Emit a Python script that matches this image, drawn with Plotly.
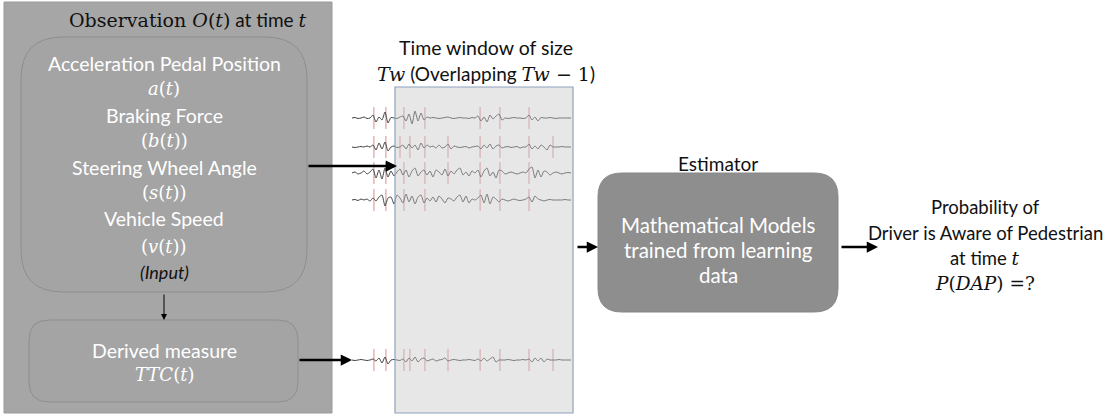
import plotly.graph_objects as go

# ---- data: signal amplitudes (px-scale units, positive = up), one sample per step ----
sig_a = [0,0.5,-0.5,0,1,-0.5,0, 3,-4,1,-2,6,-5, 0.5,0,-0.5,1, 2,-3,4,-6,7,-3,5,-2,1,
         0,0.5,0,-0.5,0,0.5,1,0,-0.5,0,0.5,0,0,-0.5,0.5,0, 2,-3,1,-4,3,-1,2,4,-2,
         0,-0.5,0,0.5,0,0,-0.5,0, 3,-2,1,-3,0.5, 0,0,0.5,0,-0.5,0,0,0,0,0]
sig_b = [0,-0.5,0,0.5,0,1,0, 2,-3,4,-2,5,-4, 0,1,-0.5,0, 2,-2,3,-1,2,-3,4,-1,2,
         0,1,-1,2,-1,0,3,-2,1,0,-0.5,0,0.5,-1,0,0.5, 1,-2,2,-1,3,-2,1,2,-1,
         0,0.5,-0.5,0,0.5,-1,0,0, 3,-2,1,-2,2,0,-3,2,0, 0,0,0.5,0,0,0]
sig_s = [0,1,-1,0,2,-1,1, 4,-5,3,-6,5,-4, 2,-3,1,4, -2,3,-4,2,5,-3,1,3,-2,
         2,-4,3,1,-2,4,-3,2,-1,3,5,-2,1,-3,2,0, 3,-4,2,5,-3,1,-5,3,2,
         -1,0,1,0,-1,0,1,0, 4,6,-5,3,-4,2,1,-2,0, 1,0,-1,0,0.5,0]
sig_v = [0,0.5,-0.5,1,0,1,-1, 2,-1,3,5,-6,2, 3,-4,5,2, -3,6,-2,4,-4,3,5,-3,2,
         -1,3,-2,4,1,-3,2,1,-1,3,5,-2,4,-3,1,0, 2,5,-3,6,-4,3,1,-2,1,
         0,-1,0,1,0,-0.5,0,1, 3,-2,4,1,0,-1,0,0.5,0, 0,0,0,0.5,0,0]
sig_ttc = [0,-0.5,0,0.5,0,-0.5,0, 1,-1,2,-3,3,-4, 0,0.5,0,-0.5, 1,-2,2,-1,3,-2,1,2,-1,
           0,1,-1,0,0.5,2,-1,0,0.5,0,-0.5,0,0,0.5,0,-0.5, 1,-1,2,-1,1,3,-2,0,0,
           0,0.5,0,-0.5,0,0,0.5,0, 1,-2,2,-1,2,-2,1,0,0, 0,0.5,0,0,0,0]
# event marker sample indices per signal
ev_a = [7.3, 11.3, 17.3, 24.3, 42.7, 49.3, 59]
ev_b = [7.3, 11.3, 16, 19.3, 24.3, 32, 42.7, 49.3, 59, 67]
ev_s = [7.3, 11.3, 17.3, 24.3, 32, 42.7, 49.3, 59]
ev_v = [7.3, 11.3, 17.3, 24.3, 42.7, 49.3, 59]
ev_ttc = [7.3, 11.3, 17.3, 19.3, 24.3, 32, 42.7, 49.3, 59, 67]

W, H = 1111, 418
fig = go.Figure()

def rrect(x0, y0, x1, y1, r):
    return (f"M{x0+r},{y0} L{x1-r},{y0} Q{x1},{y0} {x1},{y0+r} L{x1},{y1-r} "
            f"Q{x1},{y1} {x1-r},{y1} L{x0+r},{y1} Q{x0},{y1} {x0},{y1-r} "
            f"L{x0},{y0+r} Q{x0},{y0} {x0+r},{y0} Z")

shapes = []
shapes.append(dict(type="rect", x0=4, y0=2, x1=332, y1=413, fillcolor="#a6a6a6",
                   line=dict(color="#9a9a9a", width=1), layer="below"))
shapes.append(dict(type="path", path=rrect(21, 37, 307, 292, 42), fillcolor="#a4a4a4",
                   line=dict(color="#8e8e8e", width=1), layer="below"))
shapes.append(dict(type="path", path=rrect(29, 320, 298, 402, 20), fillcolor="#a4a4a4",
                   line=dict(color="#8e8e8e", width=1), layer="below"))
shapes.append(dict(type="path", path=rrect(598, 173, 838, 312, 24), fillcolor="#8e8e8e",
                   line=dict(color="#878787", width=1), layer="below"))

x_start, step = 352, 3.0
signals = [(sig_a, ev_a, 118), (sig_b, ev_b, 147), (sig_s, ev_s, 173),
           (sig_v, ev_v, 200), (sig_ttc, ev_ttc, 360)]
for vals, evs, base in signals:
    for e in evs:
        xe = x_start + e * step
        shapes.append(dict(type="line", x0=xe, x1=xe, y0=base - 11, y1=base + 11,
                           line=dict(color="rgba(210,120,120,0.7)", width=1.2),
                           layer="below"))
    xs = [x_start + i * step for i in range(len(vals))]
    ys = [base - v for v in vals]
    fig.add_trace(go.Scatter(x=xs, y=ys, mode="lines",
                             line=dict(color="#404040", width=1.0, shape="spline", smoothing=0.6),
                             hoverinfo="skip", showlegend=False))

# translucent time window drawn over the signals
shapes.append(dict(type="rect", x0=395, y0=87, x1=573, y1=413,
                   fillcolor="rgba(198,198,200,0.42)",
                   line=dict(color="#8fa2bd", width=1.2), layer="above"))

SANS = "Lato"
SERIF = "DejaVu Serif"

def m(s):
    return f"<span style='font-family:{SERIF}'>{s}</span>"

ann = []
def txt(x, y, t, size=19.5, color="white", font=SANS):
    ann.append(dict(x=x, y=y, text=t, showarrow=False, xanchor="center", yanchor="middle",
                    font=dict(family=font, size=size, color=color)))

txt(187, 19, m("Observation <i>O</i>(<i>t</i>)") + " at time " + m("<i>t</i>"), size=19, color="#111")
cx = 164
txt(cx, 63, "Acceleration Pedal Position")
txt(cx, 88, m("<i>a</i>(<i>t</i>)"), size=18)
txt(cx, 115, "Braking Force")
txt(cx, 140, m("(<i>b</i>(<i>t</i>))"), size=18)
txt(cx, 167, "Steering Wheel Angle")
txt(cx, 192, m("(<i>s</i>(<i>t</i>))"), size=18)
txt(cx, 218, "Vehicle Speed")
txt(cx, 246, m("(<i>v</i>(<i>t</i>))"), size=18)
txt(cx, 272, "<i>(Input)</i>", color="#111", size=18)
txt(cx, 350, "Derived measure")
txt(cx, 374, m("<i>TTC</i>(<i>t</i>)"), size=18)

txt(486, 47, "Time window of size", color="#111")
txt(486, 73, m("<i>Tw</i>") + " (Overlapping " + m("<i>Tw</i> − 1") + ")", color="#111", size=19)

txt(718, 163, "Estimator", color="#111", size=19)
txt(718, 225, "Mathematical Models", size=20.5)
txt(718, 250, "trained from learning", size=20.5)
txt(718, 275, "data", size=20.5)

txt(985, 207, "Probability of", color="#111", size=18.5)
txt(985, 233, "Driver is Aware of Pedestrian", color="#111", size=18.5)
txt(985, 258, "at time " + m("<i>t</i>"), color="#111", size=18.5)
txt(985, 283, m("<i>P</i>(<i>DAP</i>) =?"), color="#111", size=18.5)

def arrow(x0, y0, x1, y1, w=2.5, head=2, size=0.9):
    ann.append(dict(x=x1, y=y1, ax=x0, ay=y0, xref="x", yref="y", axref="x", ayref="y",
                    showarrow=True, arrowhead=head, arrowsize=size, arrowwidth=w,
                    arrowcolor="#000", text=""))

arrow(307, 166, 397, 166)
arrow(298, 360, 352, 360)
arrow(164, 293, 164, 320, w=1, head=2, size=1.2)
arrow(576, 247, 598, 247)
arrow(840, 247, 878, 247)

fig.update_layout(width=W, height=H, margin=dict(l=0, r=0, t=0, b=0),
                  paper_bgcolor="white", plot_bgcolor="white",
                  shapes=shapes, annotations=ann,
                  xaxis=dict(range=[0, W], visible=False, fixedrange=True),
                  yaxis=dict(range=[H, 0], visible=False, fixedrange=True))
fig.write_html("out.html", config={"displayModeBar": False},
               post_script="document.body.style.margin='0';document.body.style.overflow='hidden';")
